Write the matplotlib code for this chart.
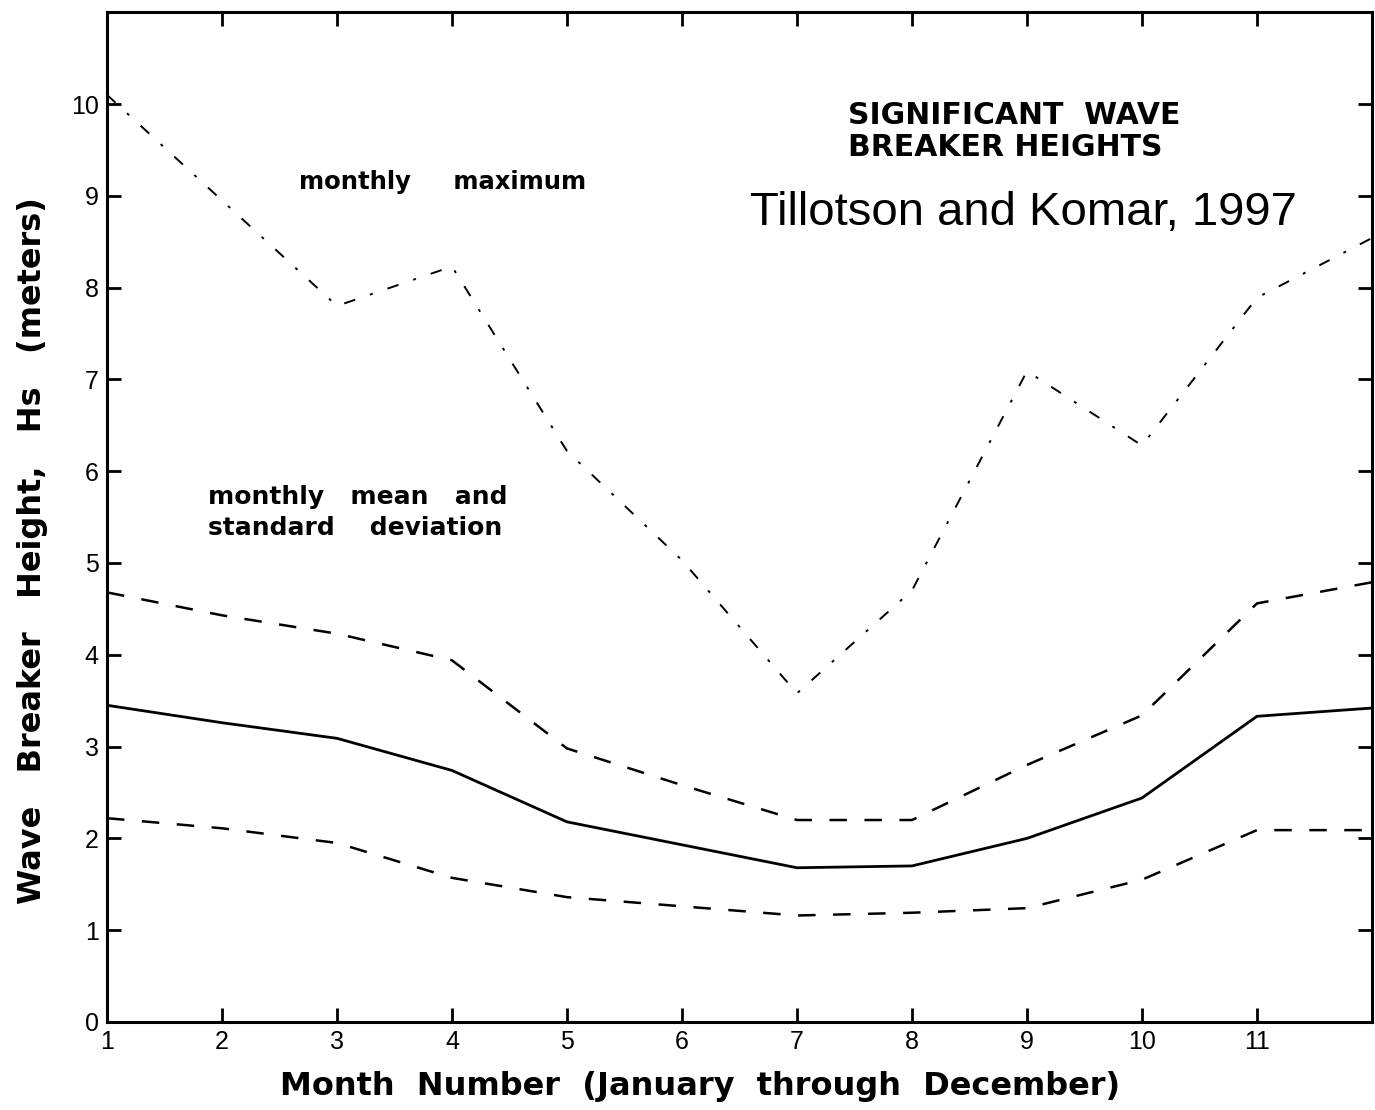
import matplotlib

matplotlib.use("Agg")
import matplotlib.pyplot as plt

# monthly values (metres)
months = [1, 2, 3, 4, 5, 6, 7, 8, 9, 10, 11, 12]
monthly_max = [10.1, 8.95, 7.8, 8.23, 6.22, 5.03, 3.58, 4.7, 7.09, 6.28, 7.89, 8.54]
mean_plus_sd = [4.68, 4.43, 4.23, 3.94, 2.98, 2.58, 2.2, 2.2, 2.8, 3.34, 4.56, 4.79]
monthly_mean = [3.45, 3.26, 3.09, 2.74, 2.18, 1.93, 1.68, 1.7, 2.0, 2.44, 3.33, 3.42]
mean_minus_sd = [2.22, 2.11, 1.95, 1.57, 1.36, 1.26, 1.16, 1.19, 1.24, 1.55, 2.09, 2.09]

x_ticks = list(range(1, 13))
x_tick_labels = [str(m) for m in range(1, 12)] + [""]
y_ticks = list(range(0, 12))
y_tick_labels = [str(v) for v in range(0, 11)] + [""]

plt.rcParams["font.family"] = ["Liberation Sans", "DejaVu Sans"]
bold_font = ["DejaVu Sans"]

fig = plt.figure(figsize=(13.75, 11.1), dpi=100)
ax = fig.add_axes((0.0778, 0.0793, 0.92, 0.9097))

ax.plot(months, monthly_max, color="black", linewidth=1.4,
        dashes=(6, 8, 1.5, 8))
ax.plot(months, mean_plus_sd, color="black", linewidth=1.8, dashes=(7, 7))
ax.plot(months, monthly_mean, color="black", linewidth=2.0)
ax.plot(months, mean_minus_sd, color="black", linewidth=1.8, dashes=(7, 7))

ax.set_xlim(1, 12)
ax.set_ylim(0, 11)
ax.set_xticks(x_ticks)
ax.set_xticklabels(x_tick_labels)
ax.set_yticks(y_ticks)
ax.set_yticklabels(y_tick_labels)
ax.tick_params(direction="in", length=10, width=2, labelsize=18,
               top=True, right=True, pad=6)
for spine in ax.spines.values():
    spine.set_linewidth(2.2)

ax.set_xlabel("Month  Number  (January  through  December)",
              fontsize=23, fontweight="bold", family=bold_font)
ax.set_ylabel("Wave   Breaker   Height,   Hs   (meters)",
              fontsize=23, fontweight="bold", family=bold_font)
ax.xaxis.set_label_coords(0.469, -0.049)
ax.yaxis.set_label_coords(-0.047, 0.467)

ax.text(2.67, 9.15, "monthly     maximum", fontsize=17.5, fontweight="bold",
        family=bold_font, va="center")
ax.text(1.88, 5.55, "monthly   mean   and\nstandard    deviation",
        fontsize=18, fontweight="bold", family=bold_font, va="center",
        linespacing=1.35)
ax.text(7.44, 9.7, "SIGNIFICANT  WAVE\nBREAKER HEIGHTS", fontsize=21.5,
        fontweight="bold", family=bold_font, va="center", linespacing=1.1)
ax.text(8.97, 8.81, "Tillotson and Komar, 1997", fontsize=34, ha="center",
        va="center")

fig.savefig("out.png", dpi=100)
